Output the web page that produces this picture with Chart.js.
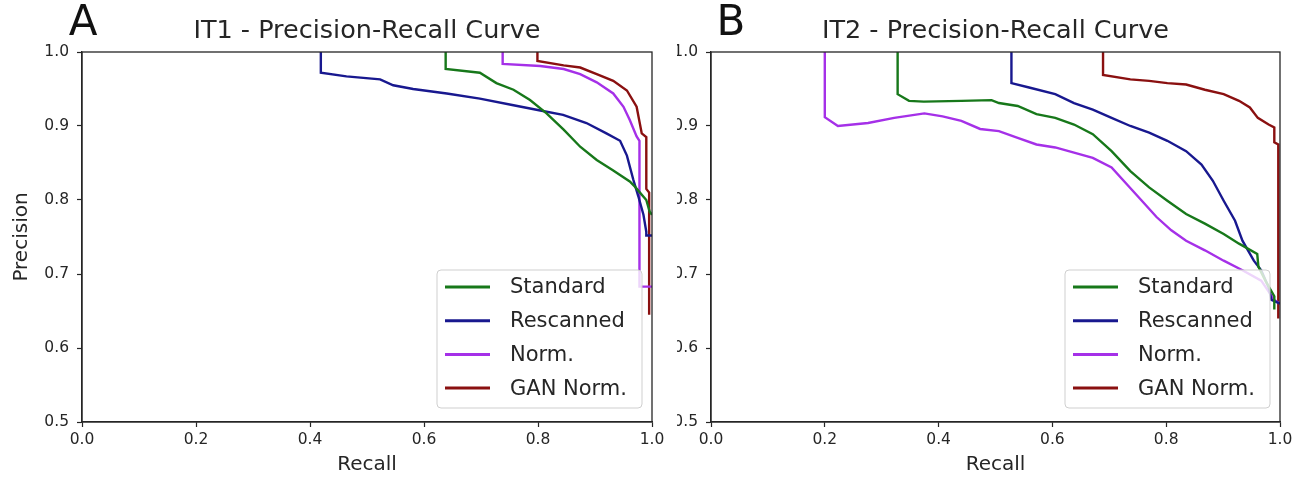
<!DOCTYPE html>
<html>
<head>
<meta charset="utf-8">
<script src="https://cdn.jsdelivr.net/npm/chart.js@4.4.1/dist/chart.umd.min.js"></script>
<style>
  html, body { margin: 0; padding: 0; background: #ffffff; width: 1309px; height: 481px; overflow: hidden; }
  #wrapA { position: absolute; left: 0; top: 0; width: 676px; height: 481px; }
  #wrapB { position: absolute; left: 677px; top: 0; width: 632px; height: 481px; }
  canvas { display: block; }
</style>
</head>
<body>
<div id="wrapA"><canvas id="chartA" width="676" height="481"></canvas></div>
<div id="wrapB"><canvas id="chartB" width="632" height="481"></canvas></div>
<script>
// ---------- data ----------
const seriesNames = ['Standard', 'Rescanned', 'Norm.', 'GAN Norm.'];
const recallTicks = [0.0, 0.2, 0.4, 0.6, 0.8, 1.0];
const precisionTicks = [0.5, 0.6, 0.7, 0.8, 0.9, 1.0];

// IT1
const it1StandardRecall    = [0.638, 0.638, 0.698, 0.727, 0.757, 0.786, 0.815, 0.845, 0.874, 0.903, 0.932, 0.961, 0.970, 0.990, 0.996, 1.000];
const it1StandardPrecision = [1.000, 0.977, 0.972, 0.958, 0.949, 0.935, 0.917, 0.895, 0.872, 0.854, 0.840, 0.825, 0.818, 0.800, 0.784, 0.780];

const it1RescannedRecall    = [0.419, 0.419, 0.464, 0.523, 0.546, 0.581, 0.640, 0.698, 0.757, 0.804, 0.844, 0.885, 0.920, 0.944, 0.956, 0.967, 0.976, 0.985, 0.990, 0.990, 1.000];
const it1RescannedPrecision = [1.000, 0.972, 0.967, 0.963, 0.955, 0.950, 0.944, 0.937, 0.928, 0.921, 0.915, 0.904, 0.890, 0.880, 0.860, 0.828, 0.805, 0.780, 0.757, 0.752, 0.752];

const it1NormRecall    = [0.738, 0.738, 0.804, 0.845, 0.874, 0.903, 0.932, 0.950, 0.961, 0.973, 0.978, 0.978, 1.000];
const it1NormPrecision = [1.000, 0.984, 0.981, 0.977, 0.970, 0.959, 0.944, 0.926, 0.908, 0.886, 0.880, 0.683, 0.683];

const it1GanRecall    = [0.799, 0.799, 0.845, 0.874, 0.903, 0.932, 0.956, 0.973, 0.982, 0.990, 0.990, 0.995, 0.995];
const it1GanPrecision = [1.000, 0.988, 0.982, 0.979, 0.970, 0.961, 0.948, 0.926, 0.890, 0.885, 0.815, 0.810, 0.645];

// IT2
const it2StandardRecall    = [0.328, 0.328, 0.348, 0.374, 0.440, 0.493, 0.506, 0.539, 0.572, 0.605, 0.638, 0.671, 0.704, 0.737, 0.770, 0.802, 0.835, 0.868, 0.901, 0.928, 0.960, 0.962, 0.975, 0.990, 0.990];
const it2StandardPrecision = [1.000, 0.943, 0.934, 0.933, 0.934, 0.935, 0.931, 0.927, 0.916, 0.911, 0.902, 0.889, 0.866, 0.839, 0.817, 0.799, 0.781, 0.768, 0.754, 0.741, 0.727, 0.710, 0.690, 0.670, 0.652];

const it2RescannedRecall    = [0.528, 0.528, 0.559, 0.605, 0.638, 0.671, 0.704, 0.737, 0.770, 0.802, 0.835, 0.862, 0.882, 0.901, 0.921, 0.934, 0.954, 0.967, 0.980, 0.985, 1.000];
const it2RescannedPrecision = [1.000, 0.958, 0.952, 0.943, 0.931, 0.922, 0.911, 0.900, 0.891, 0.880, 0.866, 0.848, 0.826, 0.799, 0.772, 0.745, 0.718, 0.705, 0.682, 0.665, 0.660];

const it2NormRecall    = [0.200, 0.200, 0.223, 0.276, 0.322, 0.375, 0.407, 0.440, 0.473, 0.506, 0.539, 0.572, 0.605, 0.638, 0.671, 0.704, 0.730, 0.756, 0.783, 0.809, 0.835, 0.868, 0.901, 0.934, 0.967, 0.990, 1.000];
const it2NormPrecision = [1.000, 0.912, 0.900, 0.904, 0.911, 0.917, 0.913, 0.907, 0.896, 0.893, 0.884, 0.875, 0.871, 0.864, 0.857, 0.844, 0.822, 0.800, 0.777, 0.759, 0.745, 0.732, 0.718, 0.705, 0.691, 0.665, 0.660];

const it2GanRecall    = [0.689, 0.689, 0.737, 0.770, 0.802, 0.835, 0.868, 0.901, 0.928, 0.947, 0.961, 0.980, 0.990, 0.990, 0.997, 0.997];
const it2GanPrecision = [1.000, 0.969, 0.963, 0.961, 0.958, 0.956, 0.949, 0.943, 0.934, 0.925, 0.911, 0.902, 0.898, 0.878, 0.875, 0.640];

// ---------- styles ----------
const palette = ['#17781a', '#18188f', '#a530e8', '#8a1010'];
const ink = '#262626';
Chart.defaults.font.family = '"DejaVu Sans", sans-serif';
Chart.defaults.color = ink;

const panelDeco = {
  id: 'panelDeco',
  afterDatasetsDraw(chart, args, o) {
    const { ctx, chartArea: a } = chart;
    ctx.save();
    // full box (spines)
    ctx.strokeStyle = ink;
    ctx.lineWidth = 1.3;
    ctx.strokeRect(a.left, a.top, a.right - a.left, a.bottom - a.top);
    // legend
    const w = 205, h = 138;
    const bx = a.right - 10 - w, by = a.bottom - 14 - h;
    ctx.beginPath();
    ctx.roundRect(bx, by, w, h, 4);
    ctx.fillStyle = 'rgba(255,255,255,0.8)';
    ctx.fill();
    ctx.strokeStyle = '#cfcfcf';
    ctx.lineWidth = 1;
    ctx.stroke();
    ctx.font = '21px "DejaVu Sans"';
    ctx.textBaseline = 'middle';
    ctx.textAlign = 'left';
    chart.data.datasets.forEach((ds, i) => {
      const y = by + 17 + i * 33.7;
      ctx.strokeStyle = ds.borderColor;
      ctx.lineWidth = 3;
      ctx.beginPath();
      ctx.moveTo(bx + 8, y);
      ctx.lineTo(bx + 53, y);
      ctx.stroke();
      ctx.fillStyle = ink;
      ctx.fillText(ds.label, bx + 73, y + 1);
    });
    // title and panel letter
    ctx.fillStyle = ink;
    ctx.textAlign = 'center';
    ctx.font = '25.5px "DejaVu Sans"';
    ctx.fillText(o.title, (a.left + a.right) / 2, 31);
    ctx.fillStyle = '#111';
    ctx.font = '42px "DejaVu Sans"';
    ctx.fillText(o.letter, o.letterX, 24);
    ctx.restore();
  }
};

function makeChart(id, cfg) {
  const axisGrid = { display: true, drawOnChartArea: false, drawTicks: true, tickLength: 5, tickColor: ink, tickWidth: 1.2, color: ink };
  const axisBorder = { display: true, color: ink, width: 1.3 };
  return new Chart(document.getElementById(id), {
    type: 'line',
    data: {
      datasets: cfg.series.map((s, i) => ({
        label: seriesNames[i],
        data: s.r.map((r, k) => ({ x: r, y: s.p[k] })),
        borderColor: palette[i],
        backgroundColor: palette[i],
        borderWidth: 2.4,
        pointRadius: 0,
        tension: 0,
        fill: false
      }))
    },
    options: {
      responsive: false,
      animation: false,
      devicePixelRatio: 1,
      layout: { padding: { left: 0, right: cfg.padRight, top: 52, bottom: 0 } },
      scales: {
        x: {
          type: 'linear', min: 0, max: 1,
          afterBuildTicks: s => { s.ticks = recallTicks.map(v => ({ value: v })); },
          afterFit: s => { s.height = 59; s.paddingLeft = 0; s.paddingRight = 0; },
          ticks: { padding: 4, color: ink, font: { size: 15.5 }, callback: v => v.toFixed(1), maxRotation: 0, autoSkip: false },
          grid: axisGrid,
          border: axisBorder,
          title: { display: true, text: 'Recall', color: ink, font: { size: 20 }, padding: { top: 0, bottom: 4 } }
        },
        y: {
          type: 'linear', min: 0.5, max: 1.0,
          afterBuildTicks: s => { s.ticks = precisionTicks.map(v => ({ value: v })); },
          afterFit: s => { s.width = cfg.yWidth; s.paddingTop = 0; s.paddingBottom = 0; },
          ticks: { padding: 8, color: ink, font: { size: 15.5 }, callback: v => v.toFixed(1), autoSkip: false },
          grid: axisGrid,
          border: axisBorder,
          title: { display: cfg.yTitle, text: 'Precision', color: ink, font: { size: 20 }, padding: { top: 10, bottom: 0 } }
        }
      },
      plugins: {
        legend: { display: false },
        tooltip: { enabled: false },
        panelDeco: { title: cfg.title, letter: cfg.letter, letterX: cfg.letterX }
      }
    },
    plugins: [panelDeco]
  });
}

makeChart('chartA', {
  title: 'IT1 - Precision-Recall Curve', letter: 'A', letterX: 83,
  yWidth: 82, padRight: 24, yTitle: true,
  series: [
    { r: it1StandardRecall, p: it1StandardPrecision },
    { r: it1RescannedRecall, p: it1RescannedPrecision },
    { r: it1NormRecall, p: it1NormPrecision },
    { r: it1GanRecall, p: it1GanPrecision }
  ]
});

makeChart('chartB', {
  title: 'IT2 - Precision-Recall Curve', letter: 'B', letterX: 54,
  yWidth: 34, padRight: 29, yTitle: false,
  series: [
    { r: it2StandardRecall, p: it2StandardPrecision },
    { r: it2RescannedRecall, p: it2RescannedPrecision },
    { r: it2NormRecall, p: it2NormPrecision },
    { r: it2GanRecall, p: it2GanPrecision }
  ]
});
</script>
</body>
</html>
